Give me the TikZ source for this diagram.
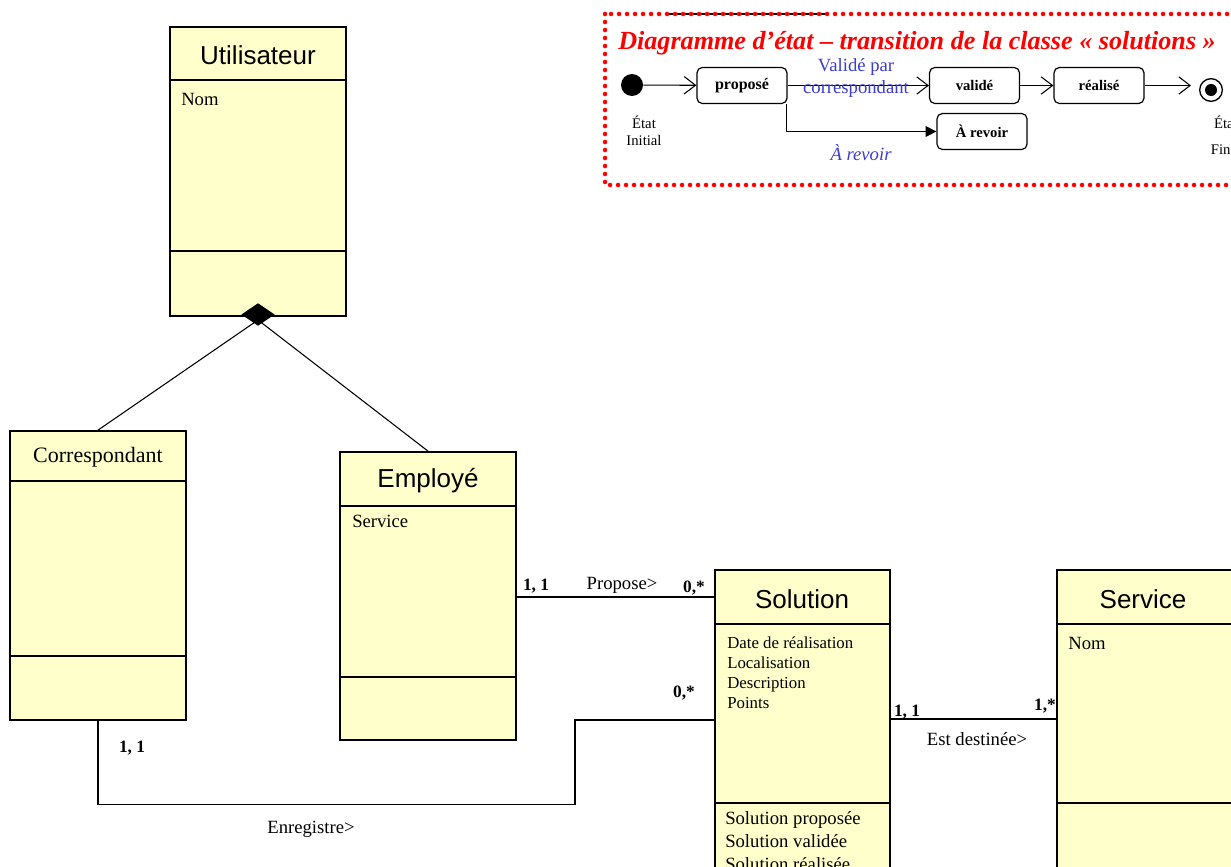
\documentclass[tikz,border=0pt]{standalone}
\usepackage{fontspec}
\setmainfont{Liberation Serif}
\newfontfamily\arialf{Liberation Sans}
\usetikzlibrary{arrows.meta,shapes.geometric,fit}
\definecolor{classfill}{RGB}{255,255,204}
\definecolor{labelblue}{RGB}{60,60,205}
\begin{document}
\begin{tikzpicture}[x=0.75pt,y=-0.75pt,
  cls/.style={draw, fill=classfill, line width=1.3pt, inner sep=0pt},
  sep/.style={line width=0.8pt},
  cname/.style={font=\arialf\fontsize{19.5}{23}\selectfont, inner sep=0pt},
  cnameserif/.style={font=\fontsize{16.5}{20}\selectfont, inner sep=0pt},
  attr/.style={font=\fontsize{14}{17}\selectfont, anchor=west, inner sep=0pt},
  attrb/.style={font=\fontsize{14}{17}\selectfont, anchor=base west, inner sep=0pt},
  attrsm/.style={font=\fontsize{12.6}{15}\selectfont, anchor=base west, inner sep=0pt},
  mult/.style={font=\bfseries\fontsize{13}{15}\selectfont, inner sep=0pt},
  assoc/.style={font=\fontsize{14}{17}\selectfont, inner sep=0pt},
  conn/.style={line width=0.8pt},
  stbox/.style={draw, rounded corners=4pt, fill=white, line width=0.9pt,
    minimum width=67.5pt, minimum height=27pt, inner sep=0pt,
    font=\bfseries\fontsize{11}{13}\selectfont},
  trans/.style={line width=0.8pt, -{Straight Barb[length=8.5pt,width=13pt]}},
  small/.style={font=\fontsize{11}{13}\selectfont, inner sep=0pt},
  bluelab/.style={font=\fontsize{14}{16}\selectfont, text=labelblue, inner sep=0pt}
]
\useasboundingbox (0,0) rectangle (1231,867);
\clip (0,0) rectangle (1231,867);

% ---------- class boxes ----------
\node[cls, fit={(170,27) (346,316)}] (util) {};
\draw[sep] (util.west |- 0,80) -- (util.east |- 0,80);
\draw[sep] (util.west |- 0,251) -- (util.east |- 0,251);
\node[cname] (utilT) at (258,55) {Utilisateur};
\node[attr] (utilA) at (181,99) {Nom};

\node[cls, fit={(10,431) (186,720)}] (corr) {};
\draw[sep] (corr.west |- 0,481) -- (corr.east |- 0,481);
\draw[sep] (corr.west |- 0,656) -- (corr.east |- 0,656);
\node[cnameserif] (corrT) at (98,457) {Correspondant};

\node[cls, fit={(340,452) (516,740)}] (emp) {};
\draw[sep] (emp.west |- 0,506) -- (emp.east |- 0,506);
\draw[sep] (emp.west |- 0,677) -- (emp.east |- 0,677);
\node[cname] (empT) at (428,481) {Employé};
\node[attr] (empA) at (352,521) {Service};

\node[cls, fit={(715,570) (890,900)}] (sol) {};
\draw[sep] (sol.west |- 0,624) -- (sol.east |- 0,624);
\draw[sep] (sol.west |- 0,803) -- (sol.east |- 0,803);
\node[cname] (solT) at (802,599) {Solution};
\node[attrsm] (solA1) at (727,648) {Date de réalisation};
\node[attrsm] (solA2) at (727,668) {Localisation};
\node[attrsm] (solA3) at (727,688) {Description};
\node[attrsm] (solA4) at (727,708) {Points};
\node[attrb] (solO1) at (725,824) {Solution proposée};
\node[attrb] (solO2) at (725,847) {Solution validée};
\node[attrb] (solO3) at (725,870) {Solution réalisée};

\node[cls, fit={(1057,570) (1245,900)}] (serv) {};
\draw[sep] (serv.west |- 0,624) -- (serv.east |- 0,624);
\draw[sep] (serv.west |- 0,803) -- (serv.east |- 0,803);
\node[cname] (servT) at (1143,599) {Service};
\node[attr] (servA) at (1068,643) {Nom};

% ---------- aggregation ----------
\draw[conn] (258,320) -- (corr.north);
\draw[conn] (258,320) -- (emp.north);
\node[diamond, fill=black, inner sep=0pt, minimum width=25pt, minimum height=17pt] (agg) at (258,314.5) {};

% ---------- associations ----------
\draw[conn] (emp.east |- 0,597) -- (sol.west |- 0,597);
\coordinate (bend) at (575,720);
\draw[conn] (corr.south) -- ++(0,84) -| (bend) -- (sol.west |- bend);
\draw[conn] (sol.east |- 0,719) -- (serv.west |- 0,719);

\node[mult] (m1) at (536,586) {1, 1};
\node[assoc] (l1) at (622,585) {Propose>};
\node[mult] (m2) at (694,588) {0,*};
\node[mult] (m3) at (132,748) {1, 1};
\node[mult] (m4) at (684,693) {0,*};
\node[assoc] (l2) at (311,829) {Enregistre>};
\node[mult] (m5) at (907,712) {1, 1};
\node[mult] (m6) at (1045,706) {1,*};
\node[assoc] (l3) at (977,739) {Est destinée>};

% ---------- state-transition frame ----------
\draw[line width=0.8pt] (668,14) -- (825,14);
\draw[red, line width=3.4pt, line cap=round, dash pattern=on 0pt off 6pt]
  (605,14) rectangle (1245,185);
\node[anchor=west, text=red, inner sep=0pt,
  font=\bfseries\itshape\fontsize{19.6}{23}\selectfont] (title) at (618,43)
  {Diagramme d’état – transition de la classe « solutions »};

\node[circle, fill=black, minimum size=16.5pt, inner sep=0pt] (init) at (632,85) {};
\node[stbox, font=\bfseries\fontsize{12}{14}\selectfont] (prop) at (742,85.5) {proposé};
\node[stbox] (valid) at (974.5,85.5) {validé};
\node[stbox] (real) at (1099,85.5) {réalisé};
\node[stbox] (rev) at (982,131.5) {À revoir};
\node[circle, draw, line width=1pt, minimum size=17pt, inner sep=0pt] (fin) at (1211,90) {};
\node[circle, fill=black, minimum size=9pt, inner sep=0pt] (findot) at (fin) {};

\draw[trans] (init) -- (prop);
\draw[trans] (prop) -- (valid);
\draw[trans] (valid) -- (real);
\draw[trans] (real.east) -- ([xshift=-6pt]fin.west |- real.east);
\draw[line width=0.8pt, -{Triangle[length=8pt,width=8pt]}]
  ([xshift=-0.8pt]prop.south east) |- (rev.west);

\node[bluelab] (v1) at (856,67) {Validé par};
\node[bluelab] (v2) at (856,89) {correspondant};
\node[bluelab, font=\itshape\fontsize{14}{16}\selectfont] (v3) at (861,153) {À revoir};
\node[small] (ei1) at (644,122) {État};
\node[small] (ei2) at (644,140) {Initial};
\node[small] (ef1) at (1226,122) {État};
\node[small] (ef2) at (1226,149) {Final};
\end{tikzpicture}
\end{document}
